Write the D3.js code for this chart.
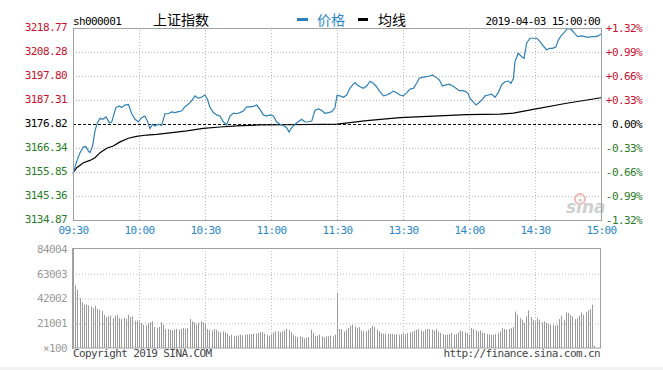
<!DOCTYPE html>
<html>
<head>
<meta charset="utf-8">
<script src="https://cdn.jsdelivr.net/npm/d3@7"></script>
<style>
  body { margin: 0; background: #fff; }
  text { font-family: "DejaVu Sans Mono", "Liberation Mono", monospace; font-size: 11px; letter-spacing: -0.6px; }
  .cjk { font-family: "Noto Sans CJK SC", sans-serif; font-size: 14px; letter-spacing: 0; }
</style>
</head>
<body>
<div id="chart"></div>
<script>
// price axis levels and their percent labels
var priceTicks = [3134.87, 3145.36, 3155.85, 3166.34, 3176.82, 3187.31, 3197.80, 3208.28, 3218.77];
var pctLabels = ["-1.32%", "-0.99%", "-0.66%", "-0.33%", "0.00%", "+0.33%", "+0.66%", "+0.99%", "+1.32%"];
var prevClose = 3176.82;

// time axis (minutes from 09:30, lunch break removed)
var timeTicks = [0, 30, 60, 90, 120, 150, 180, 210, 240];
var timeLabels = ["09:30", "10:00", "10:30", "11:00", "11:30", "13:30", "14:00", "14:30", "15:00"];

// volume axis
var volTicks = [0, 21001, 42002, 63003, 84004];
var volLabels = ["\u00d7100", "21001", "42002", "63003", "84004"];

// price line (minute, price)
var priceMin = [0, 1.7, 3.2, 4.7, 5.9, 7, 7.7, 8.9, 10, 11.1, 12.3, 13.5, 15, 16.5, 17.6, 18.6, 19.5, 21.1, 22.1, 23.6,
  25.2, 26.7, 28.2, 29.7, 31.2, 32.7, 33.8, 35, 36.2, 37.3, 38.8, 40.3, 41.8, 43.3, 44.8, 46.4, 47.9, 49.4, 50.9, 52.4,
  53.9, 55.5, 57, 58.5, 60, 61.1, 62.3, 63.8, 65.3, 66.8, 68.3, 69.8, 71.4, 72.9, 74.4, 75.9, 77.4, 78.9, 80.5, 82,
  83.5, 85, 86.5, 88, 89.5, 91.1, 92.6, 94.1, 95.6, 97.1, 98.2, 99.4, 100.9, 102.4, 103.9, 105.5, 107, 108.5, 110, 111.5,
  113, 114.5, 116.1, 117.6, 119.1, 120, 121.4, 122.9, 124.4, 125.9, 127.1, 128.2, 129.2, 130.5, 132, 133.5, 135, 136.5, 138, 139.5,
  141.1, 142.6, 144.1, 145.6, 147.1, 148.6, 150.2, 151.7, 153.2, 154.7, 156.2, 157.4, 158.9, 160.5, 162, 163.5, 165, 166.5, 168, 169.5,
  171.1, 172.6, 174.1, 175.6, 177.1, 178.6, 179.7, 180.5, 181.7, 183.2, 184.2, 185.8, 187.3, 188.8, 190.3, 191.8, 193.3, 194.8, 196.4, 197.9,
  199.1, 200.2, 200.9, 202.4, 203.9, 205, 206.2, 207.7, 209.2, 210.8, 212.3, 213.8, 215.3, 216.5, 218, 219.5, 220.6, 222.1, 223.6, 224.8,
  226.4, 227.9, 229.4, 231.2, 232.7, 234.2, 235.8, 237.3, 238.8, 240];
var priceVal = [3154.8, 3160.6, 3164.3, 3166.8, 3166.9, 3165.0, 3164.3, 3167.2, 3173.8, 3177.4, 3179.3, 3178.9, 3179.9, 3177.4, 3177.7, 3181.0, 3184.0, 3184.7, 3184.0, 3185.1,
  3185.4, 3181.3, 3178.9, 3177.7, 3179.6, 3180.3, 3178.1, 3174.8, 3176.7, 3175.9, 3176.7, 3176.2, 3181.3, 3181.3, 3182.1, 3181.8, 3182.2, 3182.5, 3184.4, 3185.4,
  3186.9, 3189.1, 3188.0, 3188.6, 3189.5, 3187.6, 3184.0, 3181.8, 3180.8, 3180.3, 3177.8, 3176.4, 3180.3, 3181.6, 3181.3, 3181.8, 3182.5, 3184.3, 3184.3, 3184.5,
  3185.1, 3183.2, 3180.8, 3180.3, 3180.8, 3180.3, 3177.7, 3176.7, 3176.2, 3175.2, 3173.3, 3175.2, 3176.7, 3177.8, 3178.9, 3177.7, 3177.8, 3178.1, 3182.8, 3183.4,
  3182.8, 3181.5, 3181.8, 3182.2, 3184.0, 3189.3, 3189.1, 3188.5, 3189.5, 3192.4, 3193.9, 3194.9, 3193.9, 3193.1, 3192.4, 3193.4, 3195.5, 3194.6, 3193.1, 3191.0,
  3189.1, 3189.5, 3190.2, 3191.2, 3190.5, 3189.5, 3189.1, 3190.5, 3192.1, 3192.4, 3194.6, 3196.8, 3197.2, 3197.5, 3197.8, 3198.2, 3197.2, 3196.1, 3193.4, 3193.9,
  3194.2, 3193.4, 3192.4, 3191.4, 3191.4, 3191.0, 3189.9, 3188.0, 3186.6, 3185.1, 3185.9, 3187.3, 3189.1, 3189.5, 3189.9, 3188.5, 3190.5, 3193.9, 3195.3, 3195.6,
  3194.6, 3196.8, 3204.1, 3207.7, 3206.3, 3205.5, 3212.1, 3214.3, 3214.3, 3214.3, 3212.8, 3210.9, 3209.2, 3209.9, 3209.9, 3210.6, 3213.5, 3215.7, 3217.2, 3218.6,
  3218.2, 3216.5, 3215.0, 3215.3, 3215.0, 3214.7, 3215.0, 3215.0, 3215.3, 3216.2];

// average line (minute, price)
var avgMin = [0, 1.7, 4.7, 7.7, 10, 12.3, 15.3, 18.3, 21.4, 25.2, 28.9, 33.5, 38, 44.1, 51.7, 59.2, 66.8, 74.4, 85, 97.1,
  120, 133.5, 148.6, 163.8, 178.9, 194.1, 200.2, 209.2, 224.4, 240];
var avgVal = [3155.5, 3157.7, 3159.9, 3160.9, 3162.1, 3164.3, 3166.2, 3167.2, 3169.0, 3170.6, 3171.4, 3172.0, 3172.3, 3172.9, 3173.8, 3174.9, 3175.5, 3176.0, 3176.4, 3176.5,
  3176.8, 3178.3, 3179.6, 3180.3, 3180.9, 3181.1, 3181.6, 3183.2, 3185.9, 3188.3];

// volume per minute (units of 100 shares), index = minute
var volume = [53000, 53000, 49400, 42300, 38600, 36700, 36700, 36100, 35200, 33800, 35800, 33300, 32400, 31300, 28200, 26200, 26800, 27400, 25400, 27400,
  28200, 25400, 24800, 25400, 24800, 28200, 26200, 26800, 23100, 23400, 22600, 21200, 19700, 19200, 21200, 21700, 22600, 17800, 17200, 17800,
  21700, 19700, 16100, 16100, 15500, 14900, 15500, 16100, 15500, 16100, 16900, 16100, 16900, 24500, 22600, 21700, 19700, 21200, 22600, 21700,
  20600, 16100, 15500, 14900, 16100, 15500, 14100, 13300, 14100, 13300, 12100, 10400, 11300, 9900, 10400, 10700, 11300, 10700, 11300, 11600,
  11800, 11600, 12100, 12100, 12700, 13500, 13500, 12100, 11300, 10400, 11800, 13300, 14100, 14100, 13300, 14100, 14900, 16100, 15500, 13300,
  11300, 9900, 9300, 9900, 9300, 8200, 8700, 9300, 15500, 12700, 10400, 10400, 11300, 9900, 9000, 9900, 9900, 10400, 9900, 11300,
  46500, 16100, 16100, 14100, 15500, 16900, 18900, 19700, 18300, 16900, 17800, 14900, 14100, 14100, 15500, 16900, 18900, 17800, 15500, 14100,
  12700, 12100, 12100, 11800, 12100, 11800, 11300, 11800, 11300, 11800, 12100, 11600, 12700, 13300, 13800, 14900, 15500, 16100, 14900, 14100,
  15500, 16100, 16100, 15500, 14900, 16100, 14100, 12700, 11600, 11000, 11300, 11800, 12700, 11300, 11800, 13300, 14900, 14100, 13300, 12700,
  11300, 16900, 16100, 14900, 14100, 14900, 13300, 12700, 11800, 11300, 11300, 11300, 11800, 12700, 14100, 16900, 16100, 15500, 16100, 16900,
  17800, 31000, 28200, 25400, 24000, 21200, 26800, 31900, 26200, 24000, 22600, 25400, 24000, 21700, 22600, 21200, 20600, 19700, 19700, 18900,
  19700, 24500, 27400, 24000, 30200, 29600, 28200, 26800, 24500, 25400, 27400, 30200, 28200, 30200, 31900, 33000, 36700, 2000, 0, 0, 0];

var svgWidth = 663, svgHeight = 370;
var left = 73, right = 601;

var svg = d3.select("#chart").append("svg")
  .attr("width", svgWidth)
  .attr("height", svgHeight);

var red = "#c8102e", green = "#2a7d2a", blue = "#2a86c4", gray = "#999";

var x = d3.scaleLinear().domain([0, 240]).range([left, right]);
var y = d3.scaleLinear().domain([3134.87, 3218.77]).range([220, 28]);
var yVol = d3.scaleLinear().domain([0, 84004]).range([348, 249]);

function tickColor(v) {
  if (Math.abs(v - prevClose) < 0.01) return "#000";
  return v > prevClose ? red : green;
}

// ---- gridlines (price panel)
svg.append("g")
  .attr("transform", `translate(${left},0)`)
  .call(d3.axisLeft(y).tickValues(priceTicks.slice(1, -1)).tickSize(-(right - left)).tickFormat(""))
  .call(g => g.select(".domain").remove())
  .call(g => g.selectAll("line")
    .attr("stroke", d => Math.abs(d - prevClose) < 0.01 ? "none" : "#bbb")
    .attr("stroke-dasharray", "1,2"));

svg.append("g")
  .attr("transform", "translate(0,220)")
  .call(d3.axisBottom(x).tickValues(timeTicks.slice(1, -1)).tickSize(-192).tickFormat(""))
  .call(g => g.select(".domain").remove())
  .call(g => g.selectAll("line").attr("stroke", "#bbb").attr("stroke-dasharray", "1,2"));

// previous close line
svg.append("line")
  .attr("x1", left).attr("x2", right)
  .attr("y1", Math.round(y(prevClose)) + 0.5).attr("y2", Math.round(y(prevClose)) + 0.5)
  .attr("stroke", "#000").attr("stroke-dasharray", "3,2");

// sina watermark
var wm = svg.append("g").attr("transform", "translate(566,213)");
wm.append("circle").attr("cx", 14).attr("cy", -14).attr("r", 5).attr("fill", "none").attr("stroke", "#f2b8b8").attr("stroke-width", 2);
wm.append("text").text("sina")
  .attr("fill", "#cfcfcf")
  .style("font-family", "DejaVu Sans")
  .style("font-style", "italic")
  .style("font-weight", "bold")
  .style("font-size", "17px")
  .style("letter-spacing", "0");

// ---- lines
var line = d3.line().x(d => x(d[0])).y(d => y(d[1]));

svg.append("path")
  .datum(avgMin.map((m, i) => [m, avgVal[i]]))
  .attr("d", line)
  .attr("fill", "none")
  .attr("stroke", "#000")
  .attr("stroke-width", 1.2);

svg.append("path")
  .datum(priceMin.map((m, i) => [m, priceVal[i]]))
  .attr("d", line)
  .attr("fill", "none")
  .attr("stroke", "#2f80b3")
  .attr("stroke-width", 1.2);

// frame
svg.append("rect")
  .attr("x", left + 0.5).attr("y", 28.5)
  .attr("width", right - left).attr("height", 192)
  .attr("fill", "none").attr("stroke", "#a0a0a0");

// ---- price axes labels
var leftAxis = svg.append("g")
  .attr("transform", `translate(${left},0)`)
  .call(d3.axisLeft(y).tickValues(priceTicks).tickSize(0).tickPadding(6).tickFormat(d3.format(".2f")));
leftAxis.select(".domain").remove();
leftAxis.selectAll("text").attr("fill", d => tickColor(d)).attr("dy", "0.2em")
  .style("font-family", "DejaVu Sans Mono").style("font-size", "11px");

var rightAxis = svg.append("g")
  .attr("transform", `translate(${right + 41},0)`)
  .call(d3.axisLeft(y).tickValues(priceTicks).tickSize(0).tickPadding(0).tickFormat((d, i) => pctLabels[i]));
rightAxis.select(".domain").remove();
rightAxis.selectAll("text").attr("fill", d => tickColor(d)).attr("dy", "0.3em")
  .style("font-family", "DejaVu Sans Mono").style("font-size", "11px");

var bottomAxis = svg.append("g")
  .attr("transform", "translate(0,220)")
  .call(d3.axisBottom(x).tickValues(timeTicks).tickSize(0).tickPadding(6).tickFormat((d, i) => timeLabels[i]));
bottomAxis.select(".domain").remove();
bottomAxis.selectAll("text").attr("fill", blue)
  .style("font-family", "DejaVu Sans Mono").style("font-size", "11px");

// ---- volume panel
svg.append("g")
  .attr("transform", `translate(${left},0)`)
  .call(d3.axisLeft(yVol).tickValues(volTicks.slice(1, -1)).tickSize(-(right - left)).tickFormat(""))
  .call(g => g.select(".domain").remove())
  .call(g => g.selectAll("line").attr("stroke", "#bbb").attr("stroke-dasharray", "1,2"));

svg.append("g")
  .attr("transform", "translate(0,348)")
  .call(d3.axisBottom(x).tickValues(timeTicks.slice(1, -1)).tickSize(-99).tickFormat(""))
  .call(g => g.select(".domain").remove())
  .call(g => g.selectAll("line").attr("stroke", "#bbb").attr("stroke-dasharray", "1,2"));

svg.append("g").selectAll("line")
  .data(volume)
  .enter()
  .append("line")
  .attr("x1", (d, i) => Math.round(x(i)) + 0.5)
  .attr("x2", (d, i) => Math.round(x(i)) + 0.5)
  .attr("y1", yVol(0))
  .attr("y2", d => yVol(d))
  .attr("stroke", "#9a9a9a")
  .attr("stroke-width", 1);

svg.append("rect")
  .attr("x", left + 0.5).attr("y", 248.5)
  .attr("width", right - 1 - left).attr("height", 99.5)
  .attr("fill", "none").attr("stroke", "#a0a0a0");
svg.append("line")
  .attr("x1", left).attr("x2", left).attr("y1", 248).attr("y2", 349)
  .attr("stroke", "#a0a0a0").attr("stroke-width", 2);

var volAxis = svg.append("g")
  .attr("transform", `translate(${left},0)`)
  .call(d3.axisLeft(yVol).tickValues(volTicks).tickSize(0).tickPadding(6).tickFormat((d, i) => volLabels[i]));
volAxis.select(".domain").remove();
volAxis.selectAll("text").attr("fill", gray).attr("dy", "0.3em")
  .style("font-family", "DejaVu Sans Mono").style("font-size", "11px");

// ---- header
svg.append("text").attr("x", 73).attr("y", 25).text("sh000001").attr("fill", "#000");
svg.append("text").attr("class", "cjk").attr("x", 153).attr("y", 25).text("上证指数").attr("fill", "#000");

svg.append("rect").attr("x", 297).attr("y", 18).attr("width", 11).attr("height", 3).attr("fill", "#2a7fb8");
svg.append("text").attr("class", "cjk").attr("x", 317).attr("y", 25).text("价格").attr("fill", blue);
svg.append("rect").attr("x", 358).attr("y", 18).attr("width", 10).attr("height", 3).attr("fill", "#000");
svg.append("text").attr("class", "cjk").attr("x", 378).attr("y", 25).text("均线").attr("fill", "#000");

svg.append("text").attr("x", 600).attr("y", 25).attr("text-anchor", "end")
  .text("2019-04-03 15:00:00").attr("fill", "#000");

// ---- footer
svg.append("text").attr("x", 73).attr("y", 357).text("Copyright 2019 SINA.COM").attr("fill", "#444");
svg.append("text").attr("x", 600).attr("y", 357).attr("text-anchor", "end")
  .text("http://finance.sina.com.cn").attr("fill", "#444");
svg.append("rect").attr("x", 0).attr("y", 367).attr("width", svgWidth).attr("height", 3).attr("fill", "#f2f2f2");
</script>
</body>
</html>
